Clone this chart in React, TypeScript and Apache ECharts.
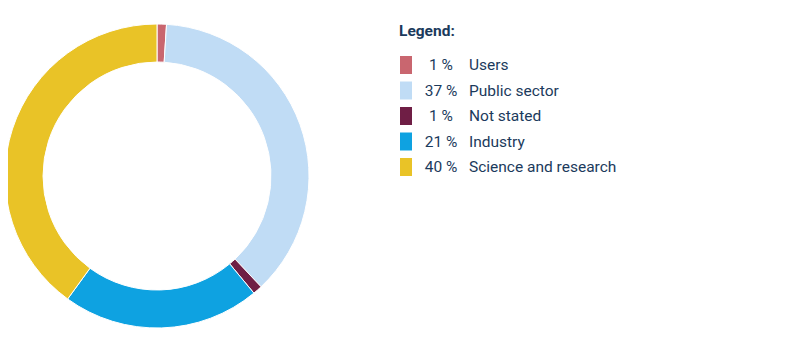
import React, { useEffect, useRef } from "react";
import * as echarts from "echarts";

const categories = ["Users", "Public sector", "Not stated", "Industry", "Science and research"];
const values = [1, 37, 1, 21, 40];
const colors = ["#c9666f", "#c0dcf5", "#6f1e45", "#0ea2e1", "#e9c327"];

export default function App() {
  const ref = useRef<HTMLDivElement>(null);
  useEffect(() => {
    if (!ref.current) return;
    const chart = echarts.init(ref.current, undefined, { renderer: "svg" });
    const textColor = "#1b3a5c";
    const font = "Roboto, 'Noto Sans', sans-serif";
    chart.setOption({
      animation: false,
      title: {
        text: "Legend:",
        left: 386,
        top: 10,
        textStyle: { color: textColor, fontSize: 15.5, fontWeight: "bold", fontFamily: font },
      },
      legend: {
        orient: "vertical",
        left: 387,
        top: 43,
        itemWidth: 12,
        itemHeight: 18,
        itemGap: 7.5,
        icon: "rect",
        selectedMode: false,
        itemStyle: { borderWidth: 0 },
        data: categories,
        formatter: (name: string) => {
          const i = categories.indexOf(name);
          return `{p|${values[i]} %}{n|${name}}`;
        },
        textStyle: {
          color: textColor,
          fontSize: 15.5,
          fontFamily: font,
          lineHeight: 18,
          rich: {
            p: { width: 48, align: "right", color: textColor, fontSize: 15.5, lineHeight: 18, fontFamily: font },
            n: { padding: [0, 0, 0, 4], color: textColor, fontSize: 15.5, lineHeight: 18, fontFamily: font },
          },
        },
      },
      series: [
        {
          type: "pie",
          center: [149, 168],
          radius: [114, 152],
          startAngle: 90,
          clockwise: true,
          label: { show: false },
          labelLine: { show: false },
          emphasis: { disabled: true },
          itemStyle: { borderColor: "#ffffff", borderWidth: 1 },
          data: categories.map((c, i) => ({ name: c, value: values[i], itemStyle: { color: colors[i] } })),
        },
      ],
    });
    return () => chart.dispose();
  }, []);
  return <div ref={ref} style={{ width: 785, height: 335 }} />;
}
